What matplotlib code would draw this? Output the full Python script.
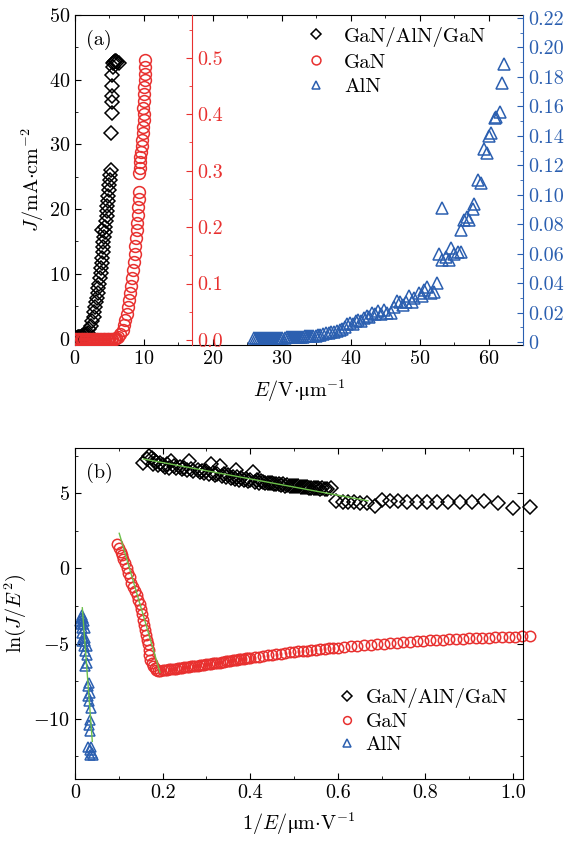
import matplotlib
matplotlib.use('Agg')
import matplotlib.pyplot as plt
from matplotlib.ticker import MultipleLocator, FuncFormatter

plt.rcParams['font.family'] = 'serif'
plt.rcParams['font.serif'] = ['cmr10']
plt.rcParams['mathtext.fontset'] = 'cm'
plt.rcParams['axes.formatter.use_mathtext'] = True
plt.rcParams['font.size'] = 14.5

red = '#e8302f'
blue = '#2b5fb0'
green = '#6cc04a'

# ---- panel (a): J-E curves ----
E_gag = [0.1, 0.25, 0.4, 0.55, 0.7, 0.85, 1.0, 1.15, 1.3, 1.45, 1.6, 1.75,
         1.9, 2.1, 2.3, 2.5, 2.7, 2.8, 2.95, 3.05, 3.15, 3.3, 3.4, 3.5, 3.6,
         3.7, 3.8, 3.9, 3.95, 4.0, 4.05, 4.1, 3.85, 4.2, 4.3, 4.4, 4.5, 4.6,
         4.65, 4.7, 4.8, 4.85, 4.95, 5.0, 5.1, 5.15, 5.2, 5.2, 5.3, 5.3,
         5.35, 5.4, 5.35, 5.45, 5.55, 5.7, 5.85, 6.0, 6.15, 6.35]
J_gag = [0.1, 0.1, 0.2, 0.2, 0.3, 0.3, 0.4, 0.4, 0.5, 0.5, 0.6, 0.7,
         0.9, 1.4, 2.0, 2.7, 3.4, 4.1, 4.9, 5.6, 6.3, 7.1, 7.8, 8.5, 9.3,
         10.1, 10.9, 11.7, 12.5, 13.3, 14.1, 14.9, 16.7, 15.7, 16.5, 17.3,
         18.1, 18.9, 19.7, 20.5, 21.3, 22.1, 22.9, 23.7, 24.5, 25.3, 26.0,
         31.7, 34.9, 36.6, 37.5, 39.1, 40.7, 42.0, 42.6, 42.8, 42.9, 42.9,
         42.8, 42.6]

E_gan = [0.0, 0.2, 0.4, 0.6, 0.8, 1.0, 1.2, 1.4, 1.6, 1.8, 2.0, 2.2, 2.4,
         2.6, 2.8, 3.0, 3.2, 3.4, 3.6, 3.8, 4.0, 4.2, 4.4, 4.6, 4.8, 5.0,
         5.2, 5.4, 5.6, 5.8, 6.0, 6.3, 6.6, 6.9, 7.1, 7.3, 7.5, 7.7, 7.85,
         8.0, 8.15, 8.3, 8.45, 8.55, 8.65, 8.75, 8.85, 8.95, 9.05, 9.1, 9.2,
         9.3, 9.25, 9.35, 9.4, 9.45, 9.5, 9.6, 9.7, 9.75, 9.85, 9.9, 9.95,
         10.0, 9.9, 10.0, 10.05, 10.0, 10.1, 10.1, 10.15, 10.15]
J_gan = [0.001, 0.001, 0.001, 0.001, 0.001, 0.001, 0.001, 0.001, 0.001,
         0.001, 0.001, 0.001, 0.001, 0.001, 0.001, 0.001, 0.001, 0.001,
         0.001, 0.001, 0.001, 0.001, 0.001, 0.001, 0.001, 0.001, 0.001,
         0.002, 0.002, 0.002, 0.003, 0.006, 0.011, 0.018, 0.026, 0.035,
         0.046, 0.058, 0.070, 0.083, 0.096, 0.110, 0.124, 0.138, 0.152,
         0.166, 0.180, 0.194, 0.208, 0.222, 0.236, 0.250, 0.262, 0.296,
         0.305, 0.315, 0.325, 0.334, 0.344, 0.355, 0.366, 0.378, 0.390,
         0.400, 0.412, 0.424, 0.436, 0.448, 0.460, 0.472, 0.484, 0.497]

E_aln = [25.9, 26.2, 26.5, 26.8, 27.1, 27.4, 27.7, 28.0, 28.3, 28.6, 28.9,
         29.2, 29.5, 29.8, 30.1, 30.4, 30.7, 31.0, 31.3, 31.6, 31.9, 32.2,
         32.5, 32.8, 33.1, 33.4, 33.7, 34.0, 34.3, 34.6, 34.9, 35.2, 35.6,
         36.0, 36.4, 36.8, 37.2, 37.6, 38.0, 38.4, 38.8, 39.2, 39.5, 39.9,
         40.3, 40.7, 41.1, 41.5, 41.9, 42.3, 42.7, 43.1, 43.5, 44.0, 44.4,
         44.8, 45.3, 45.9, 46.3, 46.7, 47.2, 47.6, 48.0, 48.4, 48.9, 49.2,
         49.9, 50.3, 50.6, 51.1, 51.6, 52.1, 52.5, 52.8, 53.3, 53.3, 53.8,
         54.3, 54.5, 55.0, 55.5, 56.0, 56.0, 56.5, 56.9, 57.2, 57.7, 57.9,
         58.4, 58.9, 59.4, 59.8, 60.1, 60.4, 60.9, 61.1, 61.6, 61.9, 62.3]
J_aln = [0.003, 0.003, 0.003, 0.003, 0.003, 0.003, 0.003, 0.003, 0.003,
         0.003, 0.003, 0.003, 0.003, 0.003, 0.003, 0.003, 0.0035, 0.0035,
         0.0035, 0.0035, 0.0035, 0.0035, 0.0035, 0.0035, 0.0035, 0.004,
         0.004, 0.004, 0.004, 0.004, 0.004, 0.0045, 0.005, 0.0055, 0.006,
         0.006, 0.0065, 0.007, 0.0075, 0.008, 0.009, 0.010, 0.012, 0.013,
         0.012, 0.014, 0.015, 0.014, 0.016, 0.018, 0.017, 0.020, 0.019,
         0.021, 0.019, 0.022, 0.020, 0.020, 0.024, 0.028, 0.027, 0.025,
         0.027, 0.031, 0.027, 0.030, 0.033, 0.031, 0.035, 0.0375, 0.033,
         0.034, 0.040, 0.060, 0.091, 0.056, 0.058, 0.056, 0.064, 0.060,
         0.061, 0.061, 0.076, 0.083, 0.085, 0.083, 0.090, 0.094, 0.110,
         0.108, 0.131, 0.128, 0.140, 0.142, 0.152, 0.153, 0.156, 0.176,
         0.189]

# ---- panel (b): F-N plots ----
x_gag = [0.156, 0.165, 0.17, 0.175, 0.18, 0.178, 0.185, 0.19, 0.195, 0.2,
         0.205, 0.21, 0.2196, 0.215, 0.225, 0.23, 0.24, 0.245, 0.25, 0.255,
         0.261, 0.265, 0.27, 0.28, 0.285, 0.29, 0.295, 0.30, 0.311, 0.305,
         0.315, 0.32, 0.33, 0.325, 0.335, 0.34, 0.345, 0.35, 0.356, 0.36,
         0.368, 0.365, 0.37, 0.375, 0.38, 0.385, 0.39, 0.395, 0.4, 0.406,
         0.41, 0.415, 0.42, 0.425, 0.43, 0.435, 0.44, 0.445, 0.45, 0.455,
         0.46, 0.465, 0.47, 0.475, 0.48, 0.485, 0.49, 0.495, 0.50, 0.505,
         0.51, 0.515, 0.52, 0.525, 0.53, 0.535, 0.54, 0.545, 0.55, 0.555,
         0.56, 0.565, 0.57, 0.575, 0.585, 0.597, 0.612,
         0.624, 0.636, 0.65, 0.667, 0.685, 0.70, 0.719, 0.738, 0.757, 0.78,
         0.803, 0.827, 0.852, 0.879, 0.906, 0.934, 0.967, 1.001, 1.04]
y_gag = [7.0, 7.3, 7.45, 7.35, 7.2, 6.95, 7.1, 6.85, 7.0, 6.9, 6.75, 6.95,
         7.15, 6.7, 6.8, 6.65, 6.75, 6.6, 6.7, 6.55, 7.15, 6.6, 6.45, 6.55,
         6.4, 6.5, 6.35, 6.45, 6.93, 6.25, 6.35, 6.2, 6.82, 6.3, 6.15, 6.25,
         6.1, 6.2, 5.98, 6.1, 6.55, 5.95, 6.05, 5.9, 6.0, 5.85, 5.95, 5.8,
         5.9, 6.38, 5.75, 5.85, 5.7, 5.78, 5.75, 5.7, 5.65, 5.7, 5.65, 5.6,
         5.6, 5.62, 5.55, 5.58, 5.5, 5.54, 5.5, 5.48, 5.45, 5.47, 5.45,
         5.42, 5.4, 5.42, 5.38, 5.36, 5.35, 5.34, 5.33, 5.32, 5.3, 5.31,
         5.3, 5.29, 5.31, 4.49, 4.42, 4.4,
         4.38, 4.33, 4.33, 4.16, 4.56, 4.49, 4.47, 4.44, 4.44, 4.44, 4.44,
         4.44, 4.44, 4.44, 4.47, 4.33, 4.02, 4.1]

x_gan = [0.0966, 0.100, 0.104, 0.107, 0.110, 0.114, 0.118, 0.122, 0.125,
         0.129, 0.133, 0.137, 0.141, 0.145, 0.148, 0.150, 0.153, 0.155,
         0.158, 0.160, 0.162, 0.164, 0.166, 0.168, 0.170, 0.171, 0.175,
         0.179, 0.183, 0.186, 0.190, 0.194, 0.20, 0.205, 0.21, 0.215, 0.22,
         0.225, 0.23, 0.235, 0.24, 0.245, 0.25, 0.255, 0.26, 0.265, 0.27,
         0.275, 0.28, 0.285, 0.29, 0.295, 0.30, 0.305, 0.31, 0.315, 0.32,
         0.325, 0.33, 0.335, 0.34, 0.345, 0.35, 0.355, 0.36, 0.365, 0.37,
         0.375, 0.38, 0.385, 0.39, 0.395, 0.40, 0.41, 0.42, 0.43, 0.44,
         0.45, 0.46, 0.47, 0.48, 0.49, 0.50, 0.51, 0.52, 0.53, 0.54, 0.55,
         0.56, 0.57, 0.58, 0.59, 0.60, 0.615, 0.63, 0.645, 0.66, 0.675,
         0.69, 0.705, 0.72, 0.735, 0.75, 0.765, 0.78, 0.795, 0.81, 0.825,
         0.84, 0.855, 0.87, 0.885, 0.90, 0.915, 0.93, 0.945, 0.96, 0.975,
         0.99, 1.005, 1.02, 1.04]
y_gan = [1.6, 1.35, 1.1, 0.9, 0.65, 0.38, 0.05, -0.29, -0.6, -0.96, -1.25,
         -1.5, -1.8, -2.07, -2.4, -2.73, -3.05, -3.4, -3.75, -4.07, -4.4,
         -4.73, -5.05, -5.4, -5.75, -6.07, -6.3, -6.5, -6.65, -6.73, -6.8,
         -6.84, -6.78, -6.76, -6.74, -6.72, -6.70, -6.68, -6.66, -6.64,
         -6.62, -6.60, -6.58, -6.56, -6.54, -6.52, -6.50, -6.48, -6.46,
         -6.44, -6.42, -6.40, -6.38, -6.36, -6.34, -6.32, -6.30, -6.28,
         -6.26, -6.24, -6.22, -6.19, -6.17, -6.15, -6.12, -6.10, -6.08,
         -6.05, -6.03, -6.00, -5.98, -5.96, -5.94, -5.90, -5.86, -5.82,
         -5.78, -5.74, -5.70, -5.66, -5.62, -5.58, -5.55, -5.52, -5.49,
         -5.46, -5.43, -5.40, -5.37, -5.34, -5.31, -5.28, -5.26, -5.22,
         -5.18, -5.14, -5.10, -5.07, -5.04, -5.00, -4.97, -4.94, -4.91,
         -4.88, -4.85, -4.82, -4.79, -4.77, -4.74, -4.72, -4.70, -4.68,
         -4.66, -4.64, -4.62, -4.60, -4.58, -4.56, -4.54, -4.53, -4.52,
         -4.51]

x_aln = [0.0167, 0.0137, 0.019, 0.0114, 0.0213, 0.0137, 0.019, 0.0152,
         0.0228, 0.0167, 0.019, 0.0228, 0.0152, 0.0228, 0.0213, 0.0266,
         0.0228, 0.0266, 0.0266, 0.0228, 0.032, 0.0289, 0.0342, 0.0304,
         0.032, 0.0365, 0.0342, 0.032, 0.0342, 0.0304, 0.0365, 0.0342,
         0.038, 0.0342, 0.0418]
y_aln = [-3.07, -3.29, -3.29, -3.51, -3.51, -3.73, -3.73, -3.96, -3.96,
         -4.29, -4.62, -4.62, -4.84, -4.84, -5.18, -5.18, -5.51, -5.73,
         -6.29, -6.51, -7.62, -7.84, -8.29, -8.51, -8.84, -9.29, -10.07,
         -10.4, -10.84, -11.84, -11.84, -12.07, -12.29, -12.4, -12.4]

# linear fits drawn in green
fit_gag_x = [0.156, 0.669]
fit_gag_y = [7.27, 4.49]
fit_gan_x = [0.101, 0.194]
fit_gan_y = [2.33, -6.91]
fit_aln_x = [0.0167, 0.0395]
fit_aln_y = [-2.62, -11.5]

fig = plt.figure(figsize=(5.84, 8.41), dpi=100)
W, H = 584, 841
ax = fig.add_axes([75 / W, 1 - 345 / H, 448 / W, 330 / H])
ax2 = fig.add_axes([75 / W, 1 - 779 / H, 448 / W, 331 / H])

mk = dict(linestyle='none', markerfacecolor='none', markeredgewidth=1.1)

# left axis: GaN/AlN/GaN
h1, = ax.plot(E_gag, J_gag, marker='D', ms=7, color='k', label='GaN/AlN/GaN', **mk)
ax.set_xlim(0, 65)
ax.set_ylim(-1, 50)
ax.xaxis.set_major_locator(MultipleLocator(10))
ax.xaxis.set_minor_locator(MultipleLocator(5))
ax.yaxis.set_major_locator(MultipleLocator(10))
ax.yaxis.set_minor_locator(MultipleLocator(5))
ax.tick_params(which='both', direction='in', top=True, right=False)
ax.tick_params(which='major', length=4)
ax.tick_params(which='minor', length=2.5)
ax.spines['right'].set_visible(False)
ax.set_xlabel('$E/\\mathrm{V{\\cdot}\u03bcm^{-1}}$', labelpad=7)
ax.set_ylabel(r'$J/\mathrm{mA{\cdot}cm^{-2}}$', labelpad=2)
ax.text(0.025, 0.955, '(a)', transform=ax.transAxes, va='top', ha='left')

# middle axis: GaN
axr = ax.twinx()
h2, = axr.plot(E_gan, J_gan, marker='o', ms=8.5, color=red, label='GaN', **mk)
axr.set_ylim(-0.009, 0.576)
axr.yaxis.set_major_locator(MultipleLocator(0.1))
axr.yaxis.set_minor_locator(MultipleLocator(0.05))
axr.yaxis.set_major_formatter(FuncFormatter(lambda v, p: f'{v:.1f}'))
for s in ['left', 'top', 'bottom']:
    axr.spines[s].set_visible(False)
axr.spines['right'].set_position(('data', 17))
axr.spines['right'].set_color(red)
axr.tick_params(axis='y', which='both', direction='in', colors=red)
axr.tick_params(axis='y', which='major', length=4)
axr.tick_params(axis='y', which='minor', length=2.5)

# right axis: AlN
axb = ax.twinx()
h3, = axb.plot(E_aln, J_aln, marker='^', ms=8, color=blue, label='AlN', **mk)
axb.set_ylim(-0.002, 0.222)
axb.yaxis.set_major_locator(MultipleLocator(0.02))
axb.yaxis.set_minor_locator(MultipleLocator(0.01))
axb.yaxis.set_major_formatter(FuncFormatter(lambda v, p: '0' if abs(v) < 1e-9 else f'{v:.2f}'))
for s in ['left', 'top', 'bottom']:
    axb.spines[s].set_visible(False)
axb.spines['right'].set_color(blue)
axb.tick_params(axis='y', which='both', direction='in', colors=blue)
axb.tick_params(axis='y', which='major', length=4)
axb.tick_params(axis='y', which='minor', length=2.5)

axb.legend(handles=[h1, h2, h3], loc='upper left', bbox_to_anchor=(0.491, 0.996),
           frameon=False, markerscale=0.75, handlelength=1.0, handletextpad=0.85,
           labelspacing=0.3, borderpad=0, fontsize=15)

# ---- panel (b) ----
g1, = ax2.plot(x_gag, y_gag, marker='D', ms=7, color='k', label='GaN/AlN/GaN', clip_on=False, **mk)
g2, = ax2.plot(x_gan, y_gan, marker='o', ms=7.5, color=red, label='GaN', clip_on=False, **mk)
g3, = ax2.plot(x_aln, y_aln, marker='^', ms=7.5, color=blue, label='AlN', clip_on=False, **mk)
ax2.plot(fit_gag_x, fit_gag_y, color=green, lw=1)
ax2.plot(fit_gan_x, fit_gan_y, color=green, lw=1)
ax2.plot(fit_aln_x, fit_aln_y, color=green, lw=1)
ax2.set_xlim(0, 1.023)
ax2.set_ylim(-14, 8)
ax2.xaxis.set_major_locator(MultipleLocator(0.2))
ax2.xaxis.set_minor_locator(MultipleLocator(0.1))
ax2.yaxis.set_major_locator(MultipleLocator(5))
ax2.yaxis.set_minor_locator(MultipleLocator(2.5))
ax2.xaxis.set_major_formatter(FuncFormatter(lambda v, p: '0' if abs(v) < 1e-9 else f'{v:.1f}'))
ax2.tick_params(which='both', direction='in', top=True, right=True)
ax2.tick_params(which='major', length=4)
ax2.tick_params(which='minor', length=2.5)
ax2.set_xlabel('$1/E/\\mathrm{\u03bcm{\\cdot}V^{-1}}$', labelpad=6)
ax2.set_ylabel(r'$\mathrm{ln}(J/E^2)$', labelpad=4)
ax2.text(0.025, 0.955, '(b)', transform=ax2.transAxes, va='top', ha='left')
ax2.legend(handles=[g1, g2, g3], loc='upper left', bbox_to_anchor=(0.56, 0.305),
           frameon=False, markerscale=0.75, handlelength=1.0, handletextpad=0.4,
           labelspacing=0.2, borderpad=0, fontsize=15)

fig.savefig('out.png', dpi=100)
